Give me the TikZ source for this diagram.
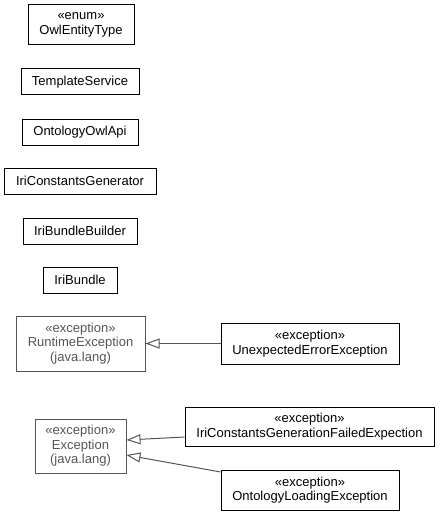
\documentclass[tikz,border=0pt]{standalone}
\usepackage{fontspec}
\setmainfont{Liberation Sans}
\usetikzlibrary{arrows.meta}
\definecolor{umlgray}{HTML}{555555}
\begin{document}
\begin{tikzpicture}[x=1pt,y=-1pt,
  cls/.style={draw=black, line width=1pt, fill=white, inner sep=0pt, align=center,
    font=\fontsize{13}{14.5}\selectfont, text=black},
  ext/.style={cls, draw=umlgray, text=umlgray},
  gen/.style={draw=umlgray, line width=1pt, -{Triangle[open, length=14pt, width=10pt, line width=1pt]}}]
\useasboundingbox (0,0) rectangle (440,516);
\node[cls, minimum width=106pt, minimum height=40pt] (owl) at (81,25) {«enum»\\OwlEntityType};
\node[cls, minimum width=118pt, minimum height=26pt] (tpl) at (80,82) {TemplateService};
\node[cls, minimum width=116pt, minimum height=26pt] (ont) at (80,132) {OntologyOwlApi};
\node[cls, minimum width=152pt, minimum height=26pt] (icg) at (80,181) {IriConstantsGenerator};
\node[cls, minimum width=114pt, minimum height=26pt] (ibb) at (80,231) {IriBundleBuilder};
\node[cls, minimum width=74pt, minimum height=26pt] (ib) at (80,280) {IriBundle};
\node[ext, minimum width=129pt, minimum height=55pt] (rte) at (80.5,343.5) {«exception»\\RuntimeException\\(java.lang)};
\node[cls, minimum width=178pt, minimum height=41pt] (uee) at (310,343.5) {«exception»\\UnexpectedErrorException};
\node[ext, minimum width=91pt, minimum height=54pt] (exc) at (80.5,446) {«exception»\\Exception\\(java.lang)};
\node[cls, minimum width=249pt, minimum height=39pt] (icf) at (309.5,426.5) {«exception»\\IriConstantsGenerationFailedExpection};
\node[cls, minimum width=178pt, minimum height=40pt] (oll) at (310,490) {«exception»\\OntologyLoadingException};
\draw[gen] (uee.west) -- (rte.east);
\draw[gen] ([yshift=-10.5pt]icf.west) -- ([yshift=6pt]exc.east);
\draw[gen] ([yshift=18pt]oll.west) -- ([yshift=-9pt]exc.east);
\end{tikzpicture}
\end{document}
